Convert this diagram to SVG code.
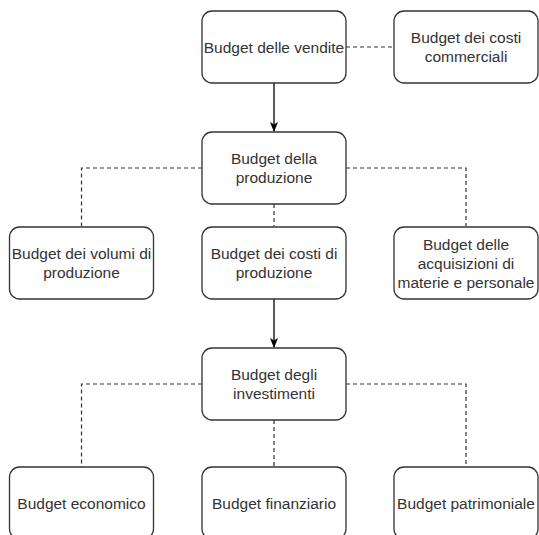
<svg xmlns="http://www.w3.org/2000/svg" width="539" height="535" viewBox="0 0 539 535">
<defs>
<style>
.box{fill:#fff;stroke:#333;stroke-width:1.3}
.t{font-family:"Liberation Sans",Arial,sans-serif;font-size:15.5px;fill:#333;text-anchor:middle}
.dash{fill:none;stroke:#333;stroke-width:1.2;stroke-dasharray:4 3}
.solid{fill:none;stroke:#000;stroke-width:1.3}
</style>
<marker id="arr" viewBox="0 0 10 10" refX="9" refY="5" markerWidth="10" markerHeight="10" markerUnits="userSpaceOnUse" orient="auto">
<path d="M0,1 L10,5 L0,9 L2.5,5 Z" fill="#000"/>
</marker>
</defs>
<rect width="539" height="535" fill="#fff"/>
<g id="connectors">
<line class="dash" x1="346" y1="47" x2="394" y2="47"/>
<line class="solid" x1="274" y1="83" x2="274" y2="131" marker-end="url(#arr)"/>
<polyline class="dash" points="202,168 81.5,168 81.5,226"/>
<polyline class="dash" points="346,168 466,168 466,226"/>
<line class="dash" x1="274" y1="204" x2="274" y2="226"/>
<line class="solid" x1="274" y1="299" x2="274" y2="347" marker-end="url(#arr)"/>
<polyline class="dash" points="202,384 81.5,384 81.5,467"/>
<polyline class="dash" points="346,384 466,384 466,467"/>
<line class="dash" x1="274" y1="420" x2="274" y2="467"/>
</g>
<g id="vendite">
<rect class="box" x="202" y="11" width="144" height="72" rx="10"/>
<text class="t" x="274" y="52.5">Budget delle vendite</text>
</g>
<g id="commerciali">
<rect class="box" x="394" y="11" width="144" height="72" rx="10"/>
<text class="t" x="466" y="43">Budget dei costi</text>
<text class="t" x="466" y="62">commerciali</text>
</g>
<g id="produzione">
<rect class="box" x="202" y="132" width="144" height="72" rx="10"/>
<text class="t" x="274" y="164">Budget della</text>
<text class="t" x="274" y="183">produzione</text>
</g>
<g id="volumi">
<rect class="box" x="9.5" y="227" width="144" height="72" rx="10"/>
<text class="t" x="81.5" y="259">Budget dei volumi di</text>
<text class="t" x="81.5" y="278">produzione</text>
</g>
<g id="costi">
<rect class="box" x="202" y="227" width="144" height="72" rx="10"/>
<text class="t" x="274" y="259">Budget dei costi di</text>
<text class="t" x="274" y="278">produzione</text>
</g>
<g id="acquisizioni">
<rect class="box" x="394" y="227" width="144" height="72" rx="10"/>
<text class="t" x="466" y="249.5">Budget delle</text>
<text class="t" x="466" y="268.5">acquisizioni di</text>
<text class="t" x="466" y="287.5">materie e personale</text>
</g>
<g id="investimenti">
<rect class="box" x="202" y="348" width="144" height="72" rx="10"/>
<text class="t" x="274" y="380">Budget degli</text>
<text class="t" x="274" y="399">investimenti</text>
</g>
<g id="economico">
<rect class="box" x="9.5" y="467" width="144" height="72" rx="10"/>
<text class="t" x="81.5" y="508.5">Budget economico</text>
</g>
<g id="finanziario">
<rect class="box" x="202" y="467" width="144" height="72" rx="10"/>
<text class="t" x="274" y="508.5">Budget finanziario</text>
</g>
<g id="patrimoniale">
<rect class="box" x="394" y="467" width="144" height="72" rx="10"/>
<text class="t" x="466" y="508.5">Budget patrimoniale</text>
</g>
</svg>
